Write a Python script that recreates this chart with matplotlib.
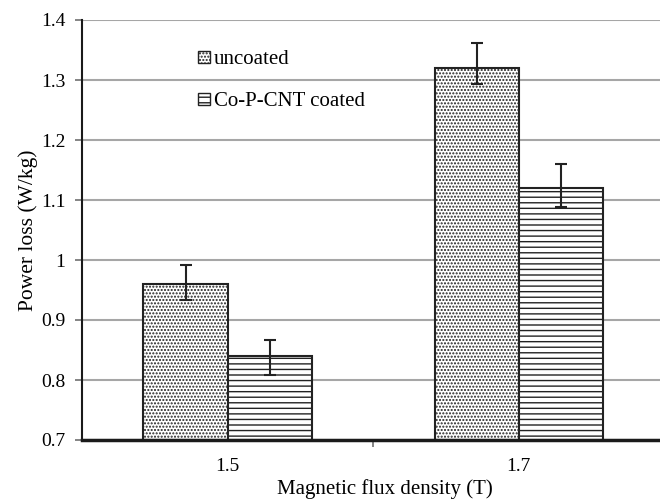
#!/usr/bin/env python3

import numpy as np
import matplotlib
matplotlib.use('Agg')
import matplotlib.pyplot as plt
from matplotlib.patches import Rectangle
from matplotlib.ticker import FixedLocator, NullFormatter

# values
flux_density = ['1.5', '1.7']
series_names = ['uncoated', 'Co-P-CNT coated']
power_loss = {
    'uncoated': [0.96, 1.32],
    'Co-P-CNT coated': [0.84, 1.12],
}
err_low = {
    'uncoated': [0.026, 0.026],
    'Co-P-CNT coated': [0.032, 0.032],
}
err_high = {
    'uncoated': [0.032, 0.041],
    'Co-P-CNT coated': [0.026, 0.040],
}
hatches = {'uncoated': '.....', 'Co-P-CNT coated': '---'}

plt.rcParams['font.family'] = ['Liberation Serif', 'DejaVu Serif']
plt.rcParams['hatch.color'] = '#3a3a3a'
plt.rcParams['hatch.linewidth'] = 1.0

fig = plt.figure(figsize=(6.6, 5.0), dpi=100)
# the plot area runs off the right edge of the picture, like the original
ax = fig.add_axes([82/660, 60/500, 582.5/660, 420/500])

x = np.arange(len(flux_density))
width = 0.289

for i, name in enumerate(series_names):
    pos = x - width/2 + i*width
    ax.bar(pos, np.array(power_loss[name]) - 0.7, width, bottom=0.7,
           facecolor='white', edgecolor='#222222', linewidth=1.5,
           hatch=hatches[name], zorder=2)
    ax.errorbar(pos, power_loss[name], yerr=[err_low[name], err_high[name]],
                fmt='none', ecolor='#222222', elinewidth=1.5, capsize=4,
                capthick=1.5, zorder=3)

ax.set_xlim(-0.5, 1.5)
ax.set_ylim(0.7, 1.4)
ax.set_yticks(np.arange(0.7, 1.41, 0.1))
ax.set_yticklabels(['0.7', '0.8', '0.9', '1', '1.1', '1.2', '1.3', '1.4'])
ax.yaxis.grid(True, color='#a6a6a6', linewidth=1.5, zorder=0)
ax.set_axisbelow(True)

ax.set_xticks(x)
ax.set_xticklabels(flux_density)
ax.tick_params(axis='x', length=0, labelsize=14, pad=13)
ax.xaxis.set_minor_locator(FixedLocator([0.5]))
ax.xaxis.set_minor_formatter(NullFormatter())
ax.tick_params(axis='x', which='minor', length=5, width=1.2, color='#707070')
ax.tick_params(axis='y', length=5, width=1.2, color='#707070', labelsize=14, pad=7)

for side in ['top', 'right']:
    ax.spines[side].set_visible(False)
ax.spines['left'].set_linewidth(1.5)
ax.spines['bottom'].set_linewidth(2.5)
ax.spines['left'].set_color('#1a1a1a')
ax.spines['bottom'].set_color('#1a1a1a')

ax.set_ylabel('Power loss (W/kg)', fontsize=15.5, labelpad=2)
fig.text(385/660, 1 - 489/500, 'Magnetic flux density (T)', fontsize=15,
         ha='center', va='center')

handles = [Rectangle((0, 0), 1, 1, facecolor='white', edgecolor='#222222',
                     linewidth=1.0, hatch=hatches[n]) for n in series_names]
ax.legend(handles, series_names, loc='upper left',
          bbox_to_anchor=(108/582.5, 1 - 22/420), frameon=False,
          fontsize=15, handlelength=0.55, handleheight=0.55,
          handletextpad=0.2, labelspacing=1.1, borderaxespad=0)

fig.savefig('out.png', dpi=100)
